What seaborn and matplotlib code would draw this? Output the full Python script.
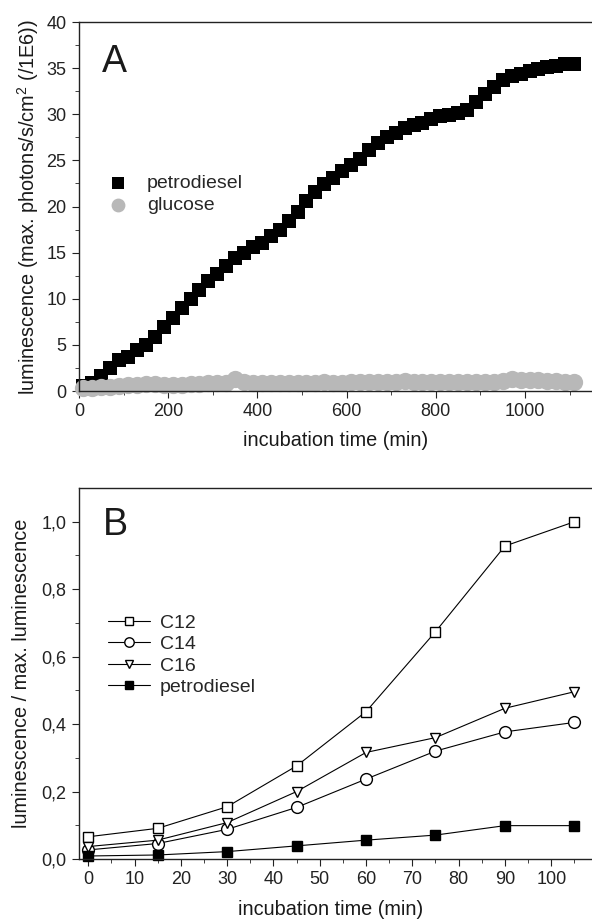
import matplotlib
matplotlib.use('Agg')
import matplotlib.pyplot as plt
import seaborn as sns

# ── Data: panel A (long run) ──────────────────────────────────────
time_a = [10, 30, 50, 70, 90, 110, 130, 150, 170, 190, 210, 230, 250, 270,
          290, 310, 330, 350, 370, 390, 410, 430, 450, 470, 490, 510, 530,
          550, 570, 590, 610, 630, 650, 670, 690, 710, 730, 750, 770, 790,
          810, 830, 850, 870, 890, 910, 930, 950, 970, 990, 1010, 1030, 1050,
          1070, 1090, 1110]
petro_a = [0.5, 0.9, 1.6, 2.5, 3.4, 3.7, 4.4, 5.0, 5.9, 6.9, 7.9, 9.0, 10.0,
           10.9, 11.9, 12.7, 13.6, 14.4, 15.0, 15.6, 16.1, 16.8, 17.5, 18.4,
           19.4, 20.6, 21.6, 22.4, 23.1, 23.9, 24.5, 25.1, 26.1, 26.9, 27.5,
           28.0, 28.5, 28.8, 29.1, 29.5, 29.8, 29.9, 30.1, 30.5, 31.3, 32.2,
           33.0, 33.7, 34.2, 34.4, 34.7, 34.9, 35.1, 35.2, 35.4, 35.5]
glucose_a = [0.3, 0.35, 0.4, 0.45, 0.5, 0.6, 0.7, 0.75, 0.75, 0.7, 0.7, 0.7,
             0.75, 0.8, 0.85, 0.85, 0.9, 1.3, 0.95, 0.85, 0.85, 0.85, 0.85,
             0.9, 0.9, 0.9, 0.9, 1.0, 0.9, 0.9, 0.95, 0.95, 0.95, 1.0, 1.0,
             1.0, 1.05, 1.0, 1.0, 1.0, 0.95, 0.95, 0.95, 0.95, 0.95, 0.95,
             0.95, 1.1, 1.35, 1.2, 1.15, 1.15, 1.1, 1.05, 1.0, 1.0]

# ── Data: panel B (normalised) ────────────────────────────────────
time_b = [0, 15, 30, 45, 60, 75, 90, 105]
c12 = [0.066, 0.091, 0.155, 0.276, 0.437, 0.674, 0.928, 1.0]
c14 = [0.027, 0.046, 0.088, 0.153, 0.237, 0.320, 0.377, 0.405]
c16 = [0.037, 0.056, 0.108, 0.200, 0.316, 0.360, 0.447, 0.496]
petro_b = [0.009, 0.012, 0.022, 0.039, 0.056, 0.071, 0.099, 0.099]
yticks_b = [0.0, 0.2, 0.4, 0.6, 0.8, 1.0]
yticklabels_b = ['0,0', '0,2', '0,4', '0,6', '0,8', '1,0']

# ── Style ─────────────────────────────────────────────────────────
sns.set_style('ticks')
plt.rcParams['font.family'] = ['Liberation Sans', 'DejaVu Sans']
plt.rcParams['mathtext.default'] = 'regular'
plt.rcParams.update({
    'xtick.direction': 'out', 'ytick.direction': 'out',
    'xtick.major.size': 5, 'ytick.major.size': 5,
    'xtick.minor.size': 3, 'ytick.minor.size': 3,
    'xtick.major.pad': 3.5, 'ytick.major.pad': 4,
    'xtick.labelsize': 13, 'ytick.labelsize': 13,
    'axes.linewidth': 1.0, 'axes.edgecolor': '#222222',
    'xtick.color': '#222222', 'ytick.color': '#222222',
})
TXT = '#1a1a1a'

fig = plt.figure(figsize=(5.92, 9.22), dpi=100)
axA = fig.add_axes([0.1334, 0.5759, 0.8666, 0.4002])
axB = fig.add_axes([0.1334, 0.0683, 0.8666, 0.4024])

# ── Panel A ───────────────────────────────────────────────────────
sns.scatterplot(x=time_a, y=petro_a, ax=axA, marker='s', s=110,
                color='black', linewidth=0, label='petrodiesel', clip_on=False)
sns.scatterplot(x=time_a, y=glucose_a, ax=axA, marker='o', s=155,
                color='#b8b8b8', linewidth=0, label='glucose', clip_on=False)
axA.set_xlim(0, 1150)
axA.set_ylim(0, 40)
axA.set_xticks([0, 200, 400, 600, 800, 1000])
axA.set_xticks(range(100, 1150, 200), minor=True)
axA.set_yticks(range(0, 41, 5))
axA.set_yticks([2.5 + 5 * i for i in range(8)], minor=True)
axA.spines['right'].set_visible(False)
axA.set_xlabel('incubation time (min)', fontsize=14.3, color=TXT)
axA.set_ylabel('luminescence (max. photons/s/cm$^2$ (/1E6))', fontsize=14.3,
               color=TXT, va='center')
axA.xaxis.set_label_coords(0.5, -0.108)
axA.yaxis.set_label_coords(-0.099, 0.5)
axA.text(0.045, 0.8645, 'A', transform=axA.transAxes, fontsize=27,
         va='baseline', ha='left', color=TXT)
axA.legend(loc='upper left', bbox_to_anchor=(0.057, 0.586), frameon=False,
           fontsize=14, handlelength=1.0, handletextpad=1.0,
           labelspacing=0.2, borderpad=0, borderaxespad=0, markerscale=0.8)

# ── Panel B ───────────────────────────────────────────────────────
series_b = [('C12', c12, 's', 'white'), ('C14', c14, 'o', 'white'),
            ('C16', c16, 'v', 'white'), ('petrodiesel', petro_b, 's', 'black')]
for name, vals, mk, fc in series_b:
    sns.lineplot(x=time_b, y=vals, ax=axB, color='black', linewidth=0.8,
                 marker=mk, markersize=7.8 if mk != 'o' else 8.5,
                 markerfacecolor=fc, markeredgecolor='black',
                 markeredgewidth=1.0, label=name, clip_on=False)
axB.set_xlim(-2, 108.8)
axB.set_ylim(0, 1.1)
axB.set_xticks(range(0, 101, 10))
axB.set_xticks(range(5, 106, 10), minor=True)
axB.set_yticks(yticks_b)
axB.set_yticklabels(yticklabels_b)
axB.set_yticks([0.1, 0.3, 0.5, 0.7, 0.9], minor=True)
axB.spines['right'].set_visible(False)
axB.set_xlabel('incubation time (min)', fontsize=14.3, color=TXT)
axB.set_ylabel('luminescence / max. luminescence', fontsize=14.3,
               color=TXT, va='center')
axB.xaxis.set_label_coords(0.49, -0.11)
axB.yaxis.set_label_coords(-0.113, 0.5)
axB.text(0.047, 0.873, 'B', transform=axB.transAxes, fontsize=27,
         va='baseline', ha='left', color=TXT)
axB.legend(loc='upper left', bbox_to_anchor=(0.057, 0.66), frameon=False,
           fontsize=14, handlelength=2.16, handletextpad=0.5,
           labelspacing=0.2, borderpad=0, borderaxespad=0, markerscale=0.8)

plt.savefig('out.png', dpi=100)
